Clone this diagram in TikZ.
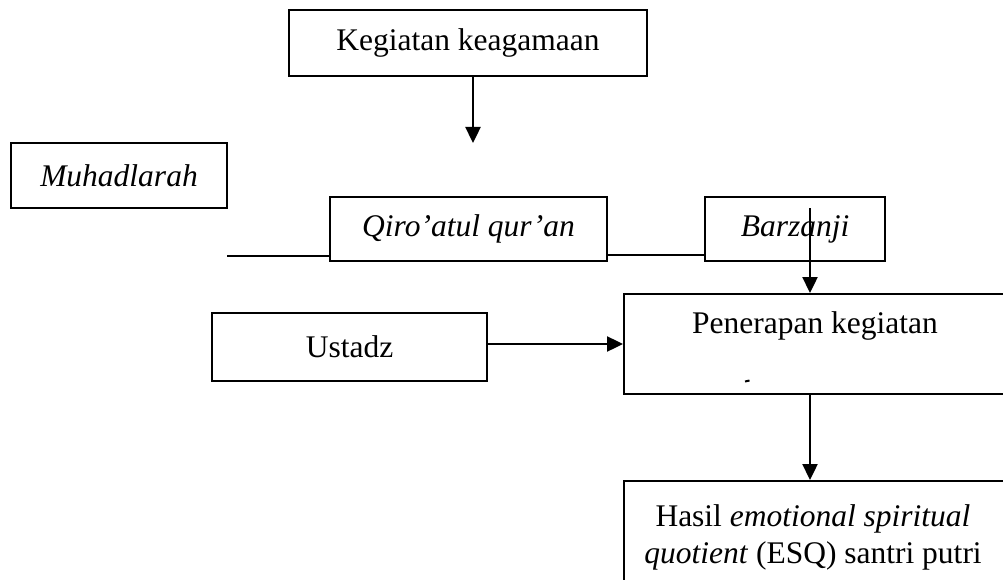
\documentclass[tikz,border=0pt]{standalone}
\usepackage{fontspec}
\setmainfont{Liberation Serif}
\usetikzlibrary{arrows.meta}
\tikzset{
  box/.style={draw, line width=2pt, inner sep=0pt, align=center},
  txt/.style={inner sep=0pt, align=center},
  link/.style={line width=2pt},
  arr/.style={line width=2.4pt, -{Triangle[width=15pt,length=16pt]}},
  every node/.style={font=\fontsize{31.5}{37}\selectfont}
}
\begin{document}
\begin{tikzpicture}[x=1pt,y=-1pt]
\useasboundingbox (0,0) rectangle (1003,580);
\clip (0,0) rectangle (1003,580);
\node[box, minimum width=358pt, minimum height=66pt] (keg) at (468,43) {Kegiatan keagamaan};
\coordinate (kegend) at (473,143);
\node[box, minimum width=216pt, minimum height=65pt] (muh) at (119,175.5) {\itshape Muhadlarah};
\node[box, minimum width=277pt, minimum height=64pt] (qir) at (468.5,229) {\itshape Qiro’atul qur’an};
\node[box, minimum width=180pt, minimum height=64pt] (bar) at (795,229) {\itshape Barzanji};
\coordinate (muhend) at (227,256);
\coordinate (barstart) at (810,208);
\node[box, minimum width=480pt, minimum height=68pt, minimum width=275pt] (ust) at (349.5,347) {Ustadz};
\node[box, minimum width=480pt, minimum height=100pt, anchor=north west] (pen) at (623,293) {};
\node[txt] (pentxt) at (815,326) {Penerapan kegiatan};
\node[box, minimum width=480pt, minimum height=140pt, anchor=north west] (has) at (623,480) {};
\node[txt] (hastxt) at (813,537) {Hasil \textit{emotional spiritual}\\\textit{quotient} (ESQ) santri putri};
\draw[arr] (keg.south -| kegend) -- (kegend);
\draw[link] (muhend) -- (muhend -| qir.west);
\draw[link] (qir.east |- 0,255) -- (bar.west |- 0,255);
\draw[arr] (barstart) -- (barstart |- pen.north);
\draw[arr] (ust.east |- pen.west) -- (pen.west);
\draw[arr] (pen.south -| barstart) -- (has.north -| barstart);
\draw[line width=2pt] (745,381.5) -- (749.5,380.5);
\end{tikzpicture}
\end{document}
